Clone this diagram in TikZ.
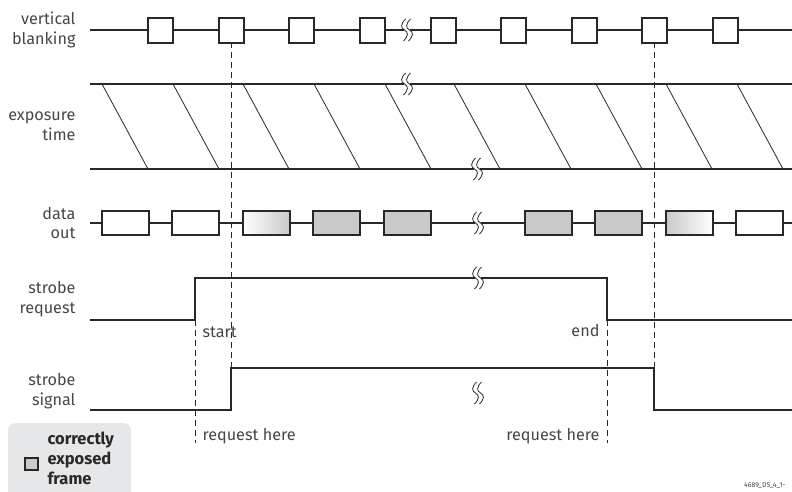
\documentclass[tikz,border=0pt]{standalone}
\usepackage{fontspec}
\setmainfont{Fira Sans}
\definecolor{ink}{RGB}{40,40,40}
\definecolor{txt}{RGB}{70,70,70}
\definecolor{frame}{RGB}{200,201,202}
\definecolor{legend}{RGB}{230,231,232}
\tikzset{sig/.style={line width=2.2pt, ink},
box/.style={line width=2.2pt, draw=ink, fill=white},
guide/.style={dash pattern=on 6pt off 4pt, line width=1pt, ink},
lbl/.style={align=right, anchor=east, text=txt, font=\fontsize{16.2}{19.5}\selectfont},
note/.style={text=txt, font=\fontsize{16.2}{19.5}\selectfont},
brk/.pic={\fill[white] (-3,-3) rectangle (3,3);
\foreach \d in {-2.5,2.5}
\draw[line width=0.8pt, ink, xshift=\d pt] (1,-11) .. controls (-4,-6) and (-4,-2) .. (0,0) .. controls (4,2) and (4,6) .. (-1,11);}}

\begin{document}
\begin{tikzpicture}[x=1pt,y=-1pt]
\useasboundingbox (0,0) rectangle (792,491);
\draw[sig] (90,30) -- (792,30);
\foreach \x in {148,219,289,360,431,501,572,642,713}
\draw[box] (\x,18) rectangle ++(25,25);
\pic at (407,30) {brk};
\draw[sig] (90,84) -- (792,84);
\draw[sig] (90,169) -- (792,169);
\foreach \x in {102,173,243,314,385,454,525,596,666,737}
\draw[line width=0.8pt, ink] (\x,84) -- ++(46,85);
\pic at (407,84) {brk};
\pic at (477,169) {brk};
\draw[sig] (90,223) -- (792,223);
\foreach \x/\f in {102/white,172/white,313/frame,384/frame,525/frame,595/frame,736/white}
\draw[box, fill=\f] (\x,211) rectangle ++(47,24);
\draw[box, left color=white, right color=frame] (243,211) rectangle ++(47,24);
\draw[box, left color=frame, right color=white] (666,211) rectangle ++(47,24);
\pic at (478,223) {brk};
\coordinate (req on) at (195,320);
\coordinate (req off) at (607,320);
\coordinate (sig on) at (231,368);
\coordinate (sig off) at (654,368);
\draw[sig] (90,320) -- (req on) -- (195,278) -- (607,278) -- (req off) -- (792,320);
\pic at (478,278) {brk};
\draw[sig] (90,410) -- (231,410) -- (sig on) -- (sig off) -- (654,410) -- (792,410);
\pic at (478,393) {brk};
\draw[guide] (sig on) -- (231,43);
\draw[guide] (sig off) -- (654,43);
\draw[guide] (req on) -- ++(0,123);
\draw[guide] (req off) -- ++(0,123);
\node[lbl] (vb) at (79,30) {vertical\\blanking};
\node[lbl] (exp) at (79,126) {exposure\\time};
\node[lbl] (dout) at (79,223) {data\\out};
\node[lbl] (sreq) at (79,299) {strobe\\request};
\node[lbl] (ssig) at (79,391) {strobe\\signal};
\node[note, anchor=west] (start) at (199,332) {start};
\node[note, anchor=east] (end) at (603,331) {end};
\node[note, anchor=west] (req here) at (199,436) {request here};
\node[note, anchor=east] (req there) at (603,436) {request here};
\fill[legend, rounded corners=8pt] (8,423) rectangle (131,505);
\draw[line width=1.6pt, ink, fill=frame] (25,458) rectangle (38,470);
\node[note, font=\fontsize{16.5}{20}\selectfont\bfseries, anchor=west, align=left, text=ink] (leg) at (44,458) {correctly\\exposed\\frame};
\node[text=txt, font=\fontsize{7}{8}\selectfont, anchor=west, inner sep=0] (ref) at (744,486) {4689\_DS\_4\_1-};
\end{tikzpicture}
\end{document}
